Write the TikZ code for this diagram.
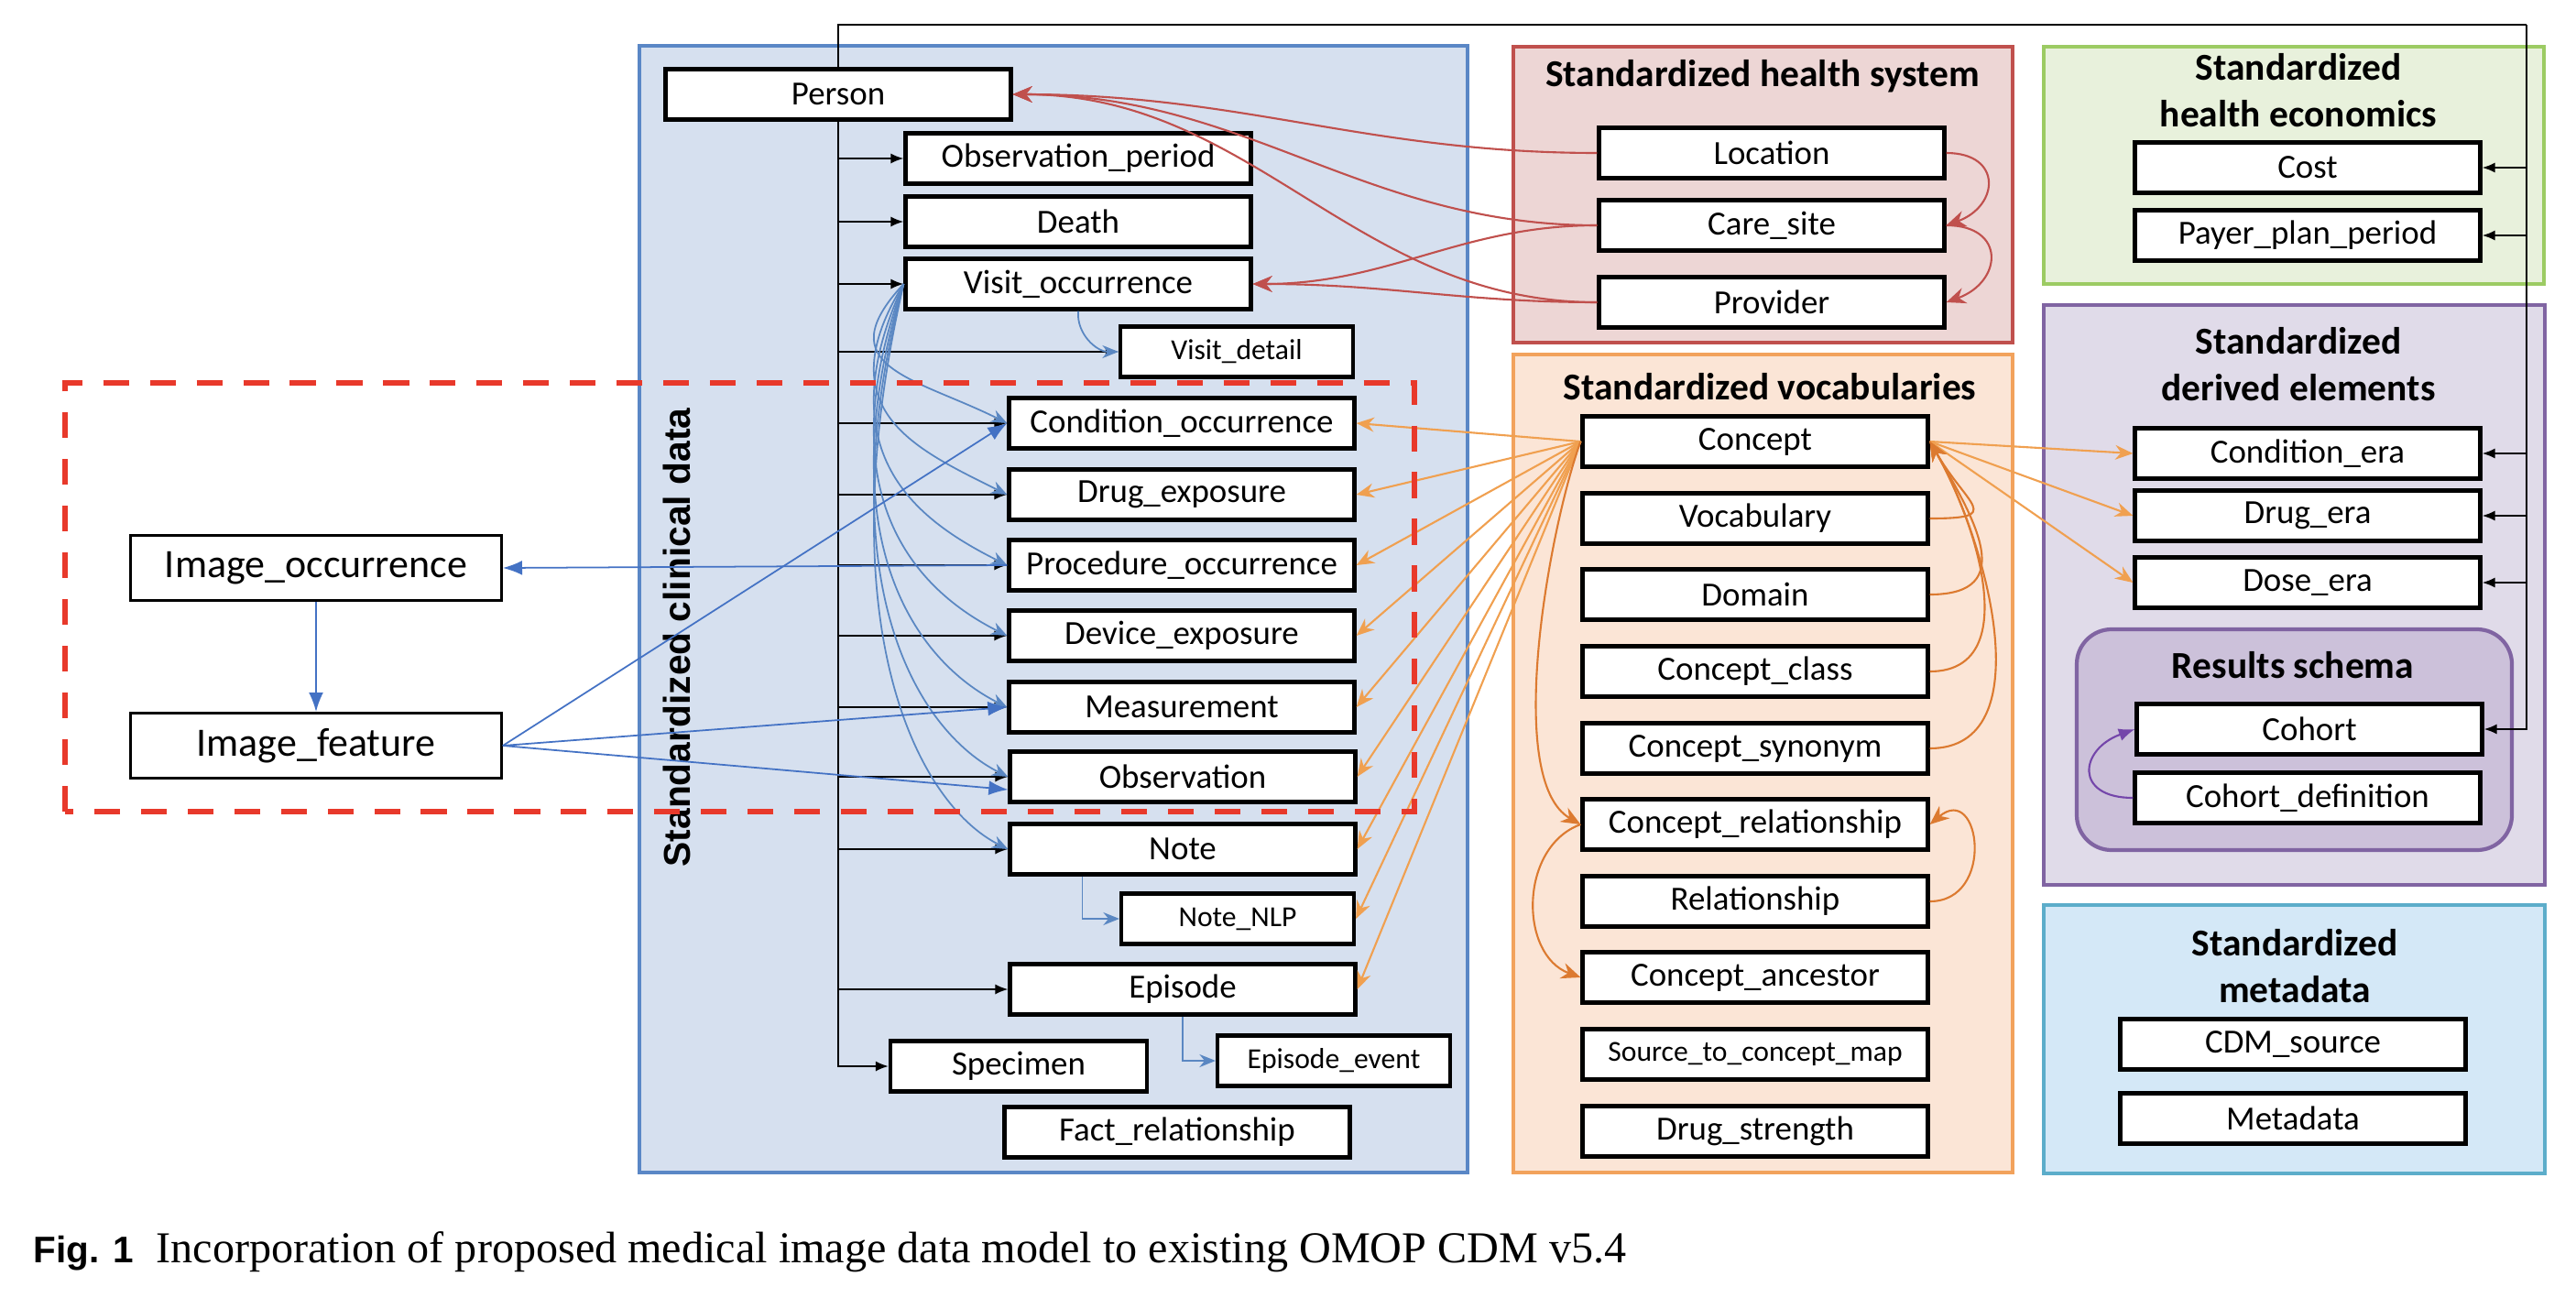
\documentclass[tikz,border=0pt]{standalone}
\usepackage{fontspec}
\setmainfont{Carlito}
\newfontfamily\arialfont{Liberation Sans}
\newfontfamily\timesfont{Liberation Serif}
\usetikzlibrary{arrows.meta,calc}

\definecolor{clinfill}{HTML}{D6E0EF}
\definecolor{clinborder}{HTML}{5A87C6}
\definecolor{hsfill}{HTML}{EDD6D5}
\definecolor{hsborder}{HTML}{C0504D}
\definecolor{vocfill}{HTML}{FBE5D6}
\definecolor{vocborder}{HTML}{F2A25C}
\definecolor{econfill}{HTML}{E8F1DC}
\definecolor{econborder}{HTML}{9CCB63}
\definecolor{derfill}{HTML}{E0DBE9}
\definecolor{derborder}{HTML}{8064A2}
\definecolor{resfill}{HTML}{CCC1DA}
\definecolor{metafill}{HTML}{D4E8F7}
\definecolor{metaborder}{HTML}{5CADCA}
\definecolor{imgred}{HTML}{E8392B}
\definecolor{visblue}{HTML}{5A87C2}
\definecolor{imgblue}{HTML}{4472C4}
\definecolor{hsline}{HTML}{C0504D}
\definecolor{vocline}{HTML}{F0A050}
\definecolor{vocdark}{HTML}{DC7A30}
\definecolor{cohortline}{HTML}{7446AA}

\begin{document}
\begin{tikzpicture}[
    tbl/.style={draw, line width=1.2pt, fill=white, inner sep=0pt, minimum width=3.77cm, minimum height=0.55cm, font=\fontsize{10.5}{12}\selectfont},
    smalltbl/.style={tbl, minimum width=2.54cm, font=\fontsize{9}{11}\selectfont},
    imgtbl/.style={draw, line width=0.8pt, fill=white, inner sep=0pt, minimum width=4.05cm, minimum height=0.71cm, font=\fontsize{12.5}{14}\selectfont},
    ttl/.style={font=\fontsize{11.8}{14.5}\selectfont\bfseries, align=center},
    panel/.style={line width=1.2pt},
    blk/.style={line width=0.6pt, -{Latex[length=4pt,width=3.2pt]}},
    visarr/.style={draw=visblue, line width=0.5pt, -{Stealth[length=5pt,width=4pt]}},
    imgarr/.style={draw=imgblue, line width=0.5pt, -{Latex[length=6pt,width=4.5pt]}},
    hsarr/.style={draw=hsline, line width=0.6pt, -{Stealth[length=6pt,width=5pt]}},
    vocarr/.style={draw=vocline, line width=0.6pt, -{Stealth[length=5.5pt,width=4.5pt]}},
    vocin/.style={draw=vocdark, line width=0.6pt, -{Stealth[length=6pt,width=5pt]}},
    cohortarr/.style={draw=cohortline, line width=0.6pt, -{Latex[length=5pt,width=4pt]}}
]
    \useasboundingbox (0,0) rectangle (28.12,14.16);

    % panels
    \draw[panel, draw=clinborder, fill=clinfill] (6.98,1.36) rectangle (16.02,13.66);
    \draw[panel, draw=hsborder, fill=hsfill] (16.52,10.42) rectangle (21.97,13.65);
    \draw[panel, draw=vocborder, fill=vocfill] (16.52,1.36) rectangle (21.97,10.29);
    \draw[panel, draw=econborder, fill=econfill] (22.31,11.06) rectangle (27.77,13.65);
    \draw[panel, draw=derborder, fill=derfill] (22.31,4.50) rectangle (27.78,10.83);
    \draw[panel, draw=derborder, fill=resfill, rounded corners=0.38cm] (22.67,4.88) rectangle (27.42,7.29);
    \draw[panel, draw=metaborder, fill=metafill] (22.31,1.35) rectangle (27.78,4.28);

    % panel titles
    \node[font=\arialfont\fontsize{11.6}{13}\selectfont\bfseries, rotate=90] (clinttl) at (7.39,7.20) {Standardized clinical data};
    \node[ttl] (hsttl) at (19.24,13.33) {Standardized health system};
    \node[ttl] (vocttl) at (19.32,9.94) {Standardized vocabularies};
    \node[ttl] (econttl) at (25.09,13.175) {Standardized\\health economics};
    \node[ttl] (derttl) at (25.09,10.185) {Standardized\\derived elements};
    \node[ttl] (resttl) at (25.03,6.90) {Results schema};
    \node[ttl] (metattl) at (25.05,3.615) {Standardized\\metadata};

    % clinical data tables
    \node[tbl] (person) at (9.15,13.13) {Person};
    \node[tbl] (obsper) at (11.77,12.43) {Observation\_period};
    \node[tbl] (death) at (11.77,11.74) {Death};
    \node[tbl] (visocc) at (11.77,11.06) {Visit\_occurrence};
    \node[smalltbl] (visdet) at (13.50,10.32) {Visit\_detail};
    \node[tbl] (condocc) at (12.90,9.54) {Condition\_occurrence};
    \node[tbl] (drugexp) at (12.90,8.76) {Drug\_exposure};
    \node[tbl] (prococc) at (12.90,7.99) {Procedure\_occurrence};
    \node[tbl] (devexp) at (12.90,7.22) {Device\_exposure};
    \node[tbl] (meas) at (12.90,6.44) {Measurement};
    \node[tbl] (obs) at (12.91,5.68) {Observation};
    \node[tbl] (note) at (12.91,4.89) {Note};
    \node[smalltbl] (notenlp) at (13.51,4.13) {Note\_NLP};
    \node[tbl] (episode) at (12.91,3.36) {Episode};
    \node[tbl, minimum width=2.80cm] (specimen) at (11.12,2.52) {Specimen};
    \node[smalltbl] (epievent) at (14.56,2.58) {Episode\_event};
    \node[tbl] (factrel) at (12.85,1.80) {Fact\_relationship};

    % image tables
    \node[imgtbl] (imgocc) at (3.45,7.96) {Image\_occurrence};
    \node[imgtbl] (imgfeat) at (3.45,6.02) {Image\_feature};

    % health system tables
    \node[tbl] (location) at (19.34,12.49) {Location};
    \node[tbl] (caresite) at (19.34,11.70) {Care\_site};
    \node[tbl] (provider) at (19.34,10.86) {Provider};

    % vocabulary tables
    \node[tbl] (concept) at (19.16,9.34) {Concept};
    \node[tbl] (vocab) at (19.16,8.50) {Vocabulary};
    \node[tbl] (domain) at (19.16,7.67) {Domain};
    \node[tbl] (cclass) at (19.16,6.83) {Concept\_class};
    \node[tbl] (csyn) at (19.16,5.99) {Concept\_synonym};
    \node[tbl] (crel) at (19.16,5.16) {Concept\_relationship};
    \node[tbl] (relship) at (19.16,4.32) {Relationship};
    \node[tbl] (cancestor) at (19.16,3.49) {Concept\_ancestor};
    \node[tbl, font=\fontsize{9}{11}\selectfont] (srcmap) at (19.16,2.65) {Source\_to\_concept\_map};
    \node[tbl] (drugstr) at (19.16,1.81) {Drug\_strength};

    % economics, derived, metadata tables
    \node[tbl] (cost) at (25.19,12.33) {Cost};
    \node[tbl] (payer) at (25.19,11.59) {Payer\_plan\_period};
    \node[tbl] (condera) at (25.19,9.21) {Condition\_era};
    \node[tbl] (drugera) at (25.19,8.53) {Drug\_era};
    \node[tbl] (doseera) at (25.19,7.80) {Dose\_era};
    \node[tbl] (cohort) at (25.21,6.20) {Cohort};
    \node[tbl] (cohortdef) at (25.19,5.45) {Cohort\_definition};
    \node[tbl] (cdmsrc) at (25.03,2.76) {CDM\_source};
    \node[tbl] (metadata) at (25.03,1.95) {Metadata};

    % person links
    \coordinate (topR) at (27.58,13.89);
    \draw[line width=0.6pt] (person.north) |- (topR);
    \draw[blk] (topR) |- (cohort.east);
    \foreach \t in {cost,payer,condera,drugera,doseera}
        \draw[blk] (topR |- \t.east) -- (\t.east);
    \draw[blk] (person.south) |- (specimen.west);
    \foreach \t in {obsper,death,visocc,visdet,condocc,drugexp,prococc,devexp,meas,obs,note,episode}
        \draw[blk] (person.south |- \t.west) -- (\t.west);

    % visit links
    \foreach \t/\d in {condocc/1.52, drugexp/2.30, prococc/3.07, devexp/3.84, meas/4.62, obs/5.38, note/6.17}
        \draw[visarr] (visocc.west) .. controls +(-0.85,{-0.6*\d}) and +(-1.0,0.5) .. (\t.west);
    \draw[visarr] (visocc.south) to[out=-95, in=180] (visdet.west);
    \draw[visarr] ($(note.south west)+(0.81,0)$) |- (notenlp.west);
    \draw[visarr] (episode.south) |- (epievent.west);

    % health system links
    \draw[hsarr] (location.west) to[out=180, in=0] (person.east);
    \draw[hsarr] (caresite.west) to[out=180, in=0] (person.east);
    \draw[hsarr] (caresite.west) to[out=180, in=0] (visocc.east);
    \draw[hsarr] (provider.west) to[out=180, in=0] (person.east);
    \draw[hsarr] (provider.west) to[out=180, in=0] (visocc.east);
    \draw[hsarr] (location.east) to[out=0, in=20, looseness=2] (caresite.east);
    \draw[hsarr] (caresite.east) to[out=0, in=20, looseness=2] (provider.east);

    % vocabulary links
    \foreach \t in {condocc,drugexp,prococc,devexp,meas,obs,note,notenlp,episode}
        \draw[vocarr] (concept.west) -- (\t.east);
    \foreach \t in {condera,drugera,doseera}
        \draw[vocarr] (concept.east) -- (\t.west);
    \foreach \t/\l in {vocab/2.5, domain/1.5, cclass/1.05, csyn/0.95}
        \draw[vocin] (\t.east) to[out=0, in=-60, looseness=\l] (concept.east);
    \draw[vocin] (relship.east) to[out=0, in=40, looseness=2.2] (crel.east);
    \draw[vocin] (concept.west) to[out=250, in=150, looseness=0.6] (crel.west);
    \draw[vocin] (crel.west) to[out=200, in=160, looseness=1.1] (cancestor.west);

    % cohort
    \draw[cohortarr] (cohortdef.west) to[out=180, in=200, looseness=2.2] (cohort.west);

    % image links
    \draw[imgarr] (prococc.west) -- (imgocc.east);
    \draw[imgarr] (imgocc.south) -- (imgfeat.north);
    \draw[imgarr] (imgfeat.east) -- (condocc.west);
    \draw[imgarr] (imgfeat.east) -- (meas.west);
    \draw[imgarr] (imgfeat.east) -- ([yshift=-0.14cm]obs.west);

    % proposed image model
    \draw[imgred, line width=1.5pt, dash pattern=on 8pt off 6.5pt] (0.71,5.30) rectangle (15.44,9.98);

    % caption
    \node[anchor=base west, font=\arialfont\fontsize{11.5}{13}\selectfont\bfseries, inner sep=0pt] (figno) at (0.36,0.38) {Fig. 1};
    \node[anchor=base west, font=\timesfont\fontsize{13.7}{15}\selectfont, inner sep=0pt] (caption) at (1.70,0.38) {Incorporation of proposed medical image data model to existing OMOP CDM v5.4};
\end{tikzpicture}
\end{document}
